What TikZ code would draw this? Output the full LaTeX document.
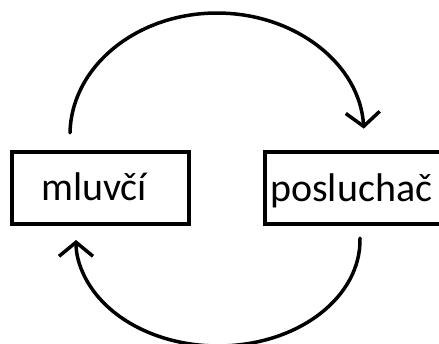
\documentclass[tikz,border=0pt]{standalone}
\usepackage{fontspec}
\setmainfont{Carlito}
\usetikzlibrary{arrows.meta}

\begin{document}
\begin{tikzpicture}[x=1pt,y=1pt,
  box/.style={draw=black, line width=4pt, rectangle, inner sep=0pt,
              minimum height=71.5pt},
  word/.style={inner sep=0pt, font=\fontsize{40}{41}\selectfont},
  loop/.style={line width=3.5pt, line cap=round,
               -{Straight Barb[length=14pt,width=34pt,line width=3.5pt]}}]
  \useasboundingbox (0,0) rectangle (439,343);
  \clip (0,0) rectangle (439,343);

  % the two partners
  \node[box, minimum width=177pt] (mluvci) at (100.5,154.75) {};
  \node[word, anchor=base] (mluvcitext) at (94,142.5) {mluvčí};
  \node[box, minimum width=200pt] (posluchac) at (365,154.75) {};
  \node[word, anchor=base west] (posluchactext) at (270,141.5) {posluchač};

  % speaking: over the top, from speaker to listener
  \coordinate (topstart) at (70,210.1);
  \draw[loop] (topstart) arc[start angle=179, end angle=3,
                             x radius=147pt, y radius=122pt];

  % feedback: underneath, from listener back to speaker
  \coordinate (botstart) at (360,104.85);
  \draw[loop] (botstart) arc[start angle=1, end angle=-180,
                             x radius=142pt, y radius=106pt];
\end{tikzpicture}
\end{document}
